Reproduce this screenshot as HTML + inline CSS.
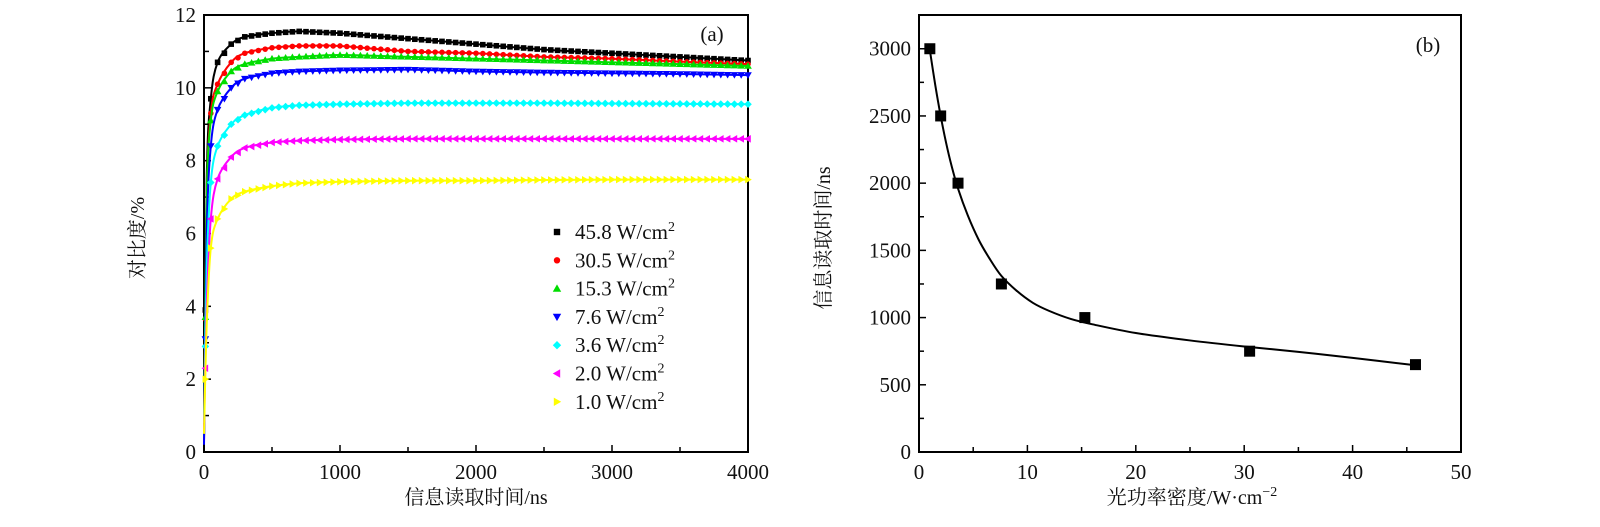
<!DOCTYPE html>
<html><head><meta charset="utf-8"><style>
body{margin:0;background:#fff}
svg{display:block}
text{font-family:"Liberation Serif","Noto Serif CJK SC","Noto Sans CJK SC",serif;fill:#111}
</style></head><body>
<svg id="c" width="1600" height="527" viewBox="0 0 1600 527"></svg>
<script>
// ---- chart (a) data ----
const timesA = [0,20,50,100,200,300,500,700,1000,1500,2000,2500,3000,3500,4000];
const s458 = [0.3,7.5,9.7,10.7,11.2,11.4,11.5,11.55,11.5,11.35,11.2,11.05,10.95,10.85,10.75];
const s305 = [0.3,7,9.3,10.1,10.7,10.95,11.1,11.15,11.15,11.0,10.95,10.85,10.8,10.72,10.65];
const s153 = [0.4,7,9.1,9.9,10.45,10.65,10.8,10.85,10.9,10.85,10.8,10.75,10.7,10.65,10.6];
const s76 = [0.2,6,8.4,9.4,10.0,10.25,10.4,10.45,10.48,10.5,10.45,10.42,10.4,10.38,10.35];
const s36 = [0.8,5,7.4,8.4,9.0,9.25,9.45,9.52,9.55,9.58,9.58,9.58,9.57,9.56,9.55];
const s20 = [0.6,4,6.4,7.5,8.1,8.35,8.5,8.55,8.58,8.6,8.6,8.6,8.6,8.6,8.6];
const s10 = [0.5,3.5,5.6,6.4,6.95,7.15,7.3,7.38,7.42,7.45,7.45,7.47,7.48,7.48,7.48];
const legendA = ["45.8","30.5","15.3","7.6","3.6","2.0","1.0"];
const xTicksA = [0,1000,2000,3000,4000];
const yTicksA = [0,2,4,6,8,10,12];
// ---- chart (b) data ----
const powerB = [1,2,3.6,7.6,15.3,30.5,45.8];
const readB = [3000,2500,2000,1250,1000,750,650];
const fitX = [1,1.5,2,2.5,3,3.6,4.5,5.5,6.5,7.6,9,10.5,12,14,16,20,25,30,35,40,45.8];
const fitY = [2990,2730,2500,2300,2130,1960,1760,1580,1440,1310,1200,1110,1050,990,950,885,830,785,745,700,645];
const xTicksB = [0,10,20,30,40,50];
const yTicksB = [0,500,1000,1500,2000,2500,3000];

const NS='http://www.w3.org/2000/svg';
const svg=document.getElementById('c');
function mk(tag,attrs,parent){const e=document.createElementNS(NS,tag);for(const k in attrs)e.setAttribute(k,attrs[k]);(parent||svg).appendChild(e);return e;}

const A={l:204,r:748,t:15,b:452,x0:0,x1:4000,y0:0,y1:12};
const B={l:919,r:1461,t:15,b:452,x0:0,x1:50,y0:0,y1:3251};
function sx(P,v){return P.l+(v-P.x0)/(P.x1-P.x0)*(P.r-P.l);}
function sy(P,v){return P.b-(v-P.y0)/(P.y1-P.y0)*(P.b-P.t);}

function frame(P,name,xt,yt,xminor,yminor){
  const g=mk('g',{});
  
  
  const r=mk('rect',{x:P.l,y:P.t,width:P.r-P.l,height:P.b-P.t,fill:'none',stroke:'#000','stroke-width':2},g);
  
  
  for(let v=P.x0;v<=P.x1+1e-9;v+=xminor){const x=sx(P,v);const maj=xt.includes(Math.round(v));mk('line',{x1:x,x2:x,y1:P.b,y2:P.b-(maj?7:5),stroke:'#000','stroke-width':1.5},g);}
  for(let v=P.y0;v<=P.y1;v+=yminor){const y=sy(P,v);const maj=yt.includes(Math.round(v));mk('line',{x1:P.l,x2:P.l+(maj?7:5),y1:y,y2:y,stroke:'#000','stroke-width':1.5},g);}
  xt.forEach(v=>{const t=mk('text',{x:sx(P,v),y:P.b+27,'text-anchor':'middle','font-size':21},g);t.textContent=v;
    
    });
  yt.forEach(v=>{const t=mk('text',{x:P.l-8,y:sy(P,v)+7,'text-anchor':'end','font-size':21},g);t.textContent=v;
    
    });
}
frame(A,'chart-a',xTicksA,yTicksA,500,1);
frame(B,'chart-b',xTicksB,yTicksB,5,250);

function label(txt,x,y,rot,name,fs){const t=mk('text',{x:x,y:y,'text-anchor':'middle','font-size':fs||20,transform:rot?`rotate(-90 ${x} ${y})`:''});t.innerHTML=txt;
  
  }
label('信息读取时间/ns',476,504,false,'chart-a-x-axis-title');
label('对比度/%',144,238,true,'chart-a-y-axis-title');
label('光功率密度/W·cm<tspan dy="-8" font-size="14">−2</tspan>',1192,504,false,'chart-b-x-axis-title');
label('信息读取时间/ns',830,238,true,'chart-b-y-axis-title');
label('(a)',712,41,false,'panel-a-label',21);
label('(b)',1428,52,false,'panel-b-label',21);

const seriesA=[s458,s305,s153,s76,s36,s20,s10];
const colors=['#000','#f00','#0d0','#00f','#0ff','#f0f','#ff0'];
const shapes=['sq','ci','tu','td','di','tl','tr'];
function marker(shape,x,y,col,s,parent){
  let e;
  if(shape==='sq')e=mk('rect',{x:x-s,y:y-s,width:2*s,height:2*s,fill:col},parent);
  else if(shape==='ci')e=mk('circle',{cx:x,cy:y,r:s,fill:col},parent);
  else{let p;
    if(shape==='tu')p=[[x,y-s-1],[x-s-1,y+s],[x+s+1,y+s]];
    if(shape==='td')p=[[x,y+s+1],[x-s-1,y-s],[x+s+1,y-s]];
    if(shape==='tl')p=[[x-s-1,y],[x+s,y-s-1],[x+s,y+s+1]];
    if(shape==='tr')p=[[x+s+1,y],[x-s,y-s-1],[x-s,y+s+1]];
    if(shape==='di')p=[[x,y-s-1],[x+s+1,y],[x,y+s+1],[x-s-1,y]];
    e=mk('polygon',{points:p.map(q=>q.join(',')).join(' '),fill:col},parent);}
  return e;
}
function interp(xs,ys,x){for(let i=1;i<xs.length;i++){if(x<=xs[i]){const f=(x-xs[i-1])/(xs[i]-xs[i-1]);return ys[i-1]+f*(ys[i]-ys[i-1]);}}return ys[ys.length-1];}
function smooth(pts){
  let d='M'+pts[0].join(',');
  for(let i=0;i<pts.length-1;i++){const p0=pts[Math.max(0,i-1)],p1=pts[i],p2=pts[i+1],p3=pts[Math.min(pts.length-1,i+2)];
    const c1=[p1[0]+(p2[0]-p0[0])/6,p1[1]+(p2[1]-p0[1])/6],c2=[p2[0]-(p3[0]-p1[0])/6,p2[1]-(p3[1]-p1[1])/6];
    d+=`C${c1.join(',')} ${c2.join(',')} ${p2.join(',')}`;}
  return d;
}
seriesA.forEach((ys,k)=>{
  const g=mk('g',{});
  
  
  const pts=timesA.map((t,i)=>[sx(A,t),sy(A,ys[i])]);
  const pa=mk('path',{d:smooth(pts),fill:'none',stroke:colors[k],'stroke-width':2},g);
  
  
  for(let t=0;t<=4000;t+=50){
    const tt=t===0?10:t;
    const m=marker(shapes[k],sx(A,tt),sy(A,interp(timesA,ys,tt)),colors[k],2.8,g);
    
    
  }
});
legendA.forEach((lab,k)=>{
  const y=232+k*28.3;
  const g=mk('g',{});
  
  
  marker(shapes[k],557,y,colors[k],3.2,g);
  const t=mk('text',{x:575,y:y+7,'font-size':21},g);
  t.innerHTML=lab+' W/cm<tspan dy="-8" font-size="14">2</tspan>';
});

{
  const pts=fitX.map((x,i)=>[sx(B,x),sy(B,fitY[i])]);
  const pa=mk('path',{d:smooth(pts),fill:'none',stroke:'#000','stroke-width':2});
  
  
  powerB.forEach((p,i)=>{
    const r=mk('rect',{x:sx(B,p)-5.5,y:sy(B,readB[i])-5.5,width:11,height:11,fill:'#000'});
    
    
  });
}
</script>
</body></html>
